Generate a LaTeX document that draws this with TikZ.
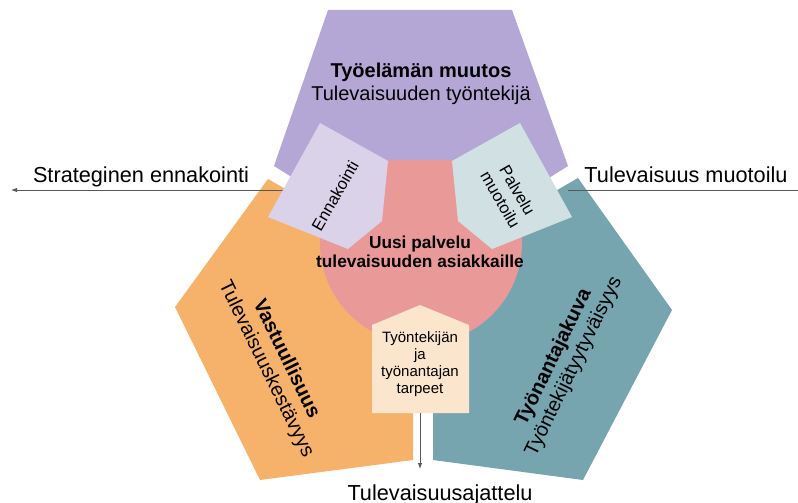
\documentclass[tikz,border=0pt]{standalone}
\usepackage{fontspec}
\setmainfont{Liberation Sans}
\usetikzlibrary{arrows.meta}
\definecolor{purp}{HTML}{B4A7D6}
\definecolor{orng}{HTML}{F6B26B}
\definecolor{tealc}{HTML}{76A5AF}
\definecolor{pinkc}{HTML}{EA9999}
\definecolor{lav}{HTML}{D9D2E9}
\definecolor{lcyan}{HTML}{D0E0E3}
\definecolor{beige}{HTML}{FCE5CD}
\definecolor{linec}{HTML}{595959}
\begin{document}
\begin{tikzpicture}[x=1pt,y=-1pt,
  lbl/.style={inner sep=0pt, align=center, text=black},
  conn/.style={draw=linec, line width=1pt},
  tipstyle/.style={-{Latex[length=6pt,width=4.5pt]}},
  bigfont/.style={font=\fontsize{20}{22.5}\selectfont},
  outfont/.style={font=\fontsize{21.7}{24}\selectfont},
  smallfont/.style={font=\fontsize{16.5}{19.5}\selectfont},
  boxfont/.style={font=\fontsize{15}{16.8}\selectfont},
  centfont/.style={font=\fontsize{17.3}{19.6}\selectfont\bfseries}
]
\useasboundingbox (0,0) rectangle (798,503);
\fill[white] (0,0) rectangle (798,503);
% big pentagons
\fill[purp] (328,10) -- (512,10) -- (568,166) -- (421,258) -- (274,166) -- cycle;
\fill[orng] (268,179) -- (175,307) -- (260,480) -- (413,460) -- (413,262) -- cycle;
\fill[tealc] (578,178) -- (672,310) -- (583,480) -- (433,460) -- (433,262) -- cycle;
% central pink shape
\begin{scope}
  \clip (290,160) rectangle (550,370);
  \fill[pinkc] (421,243) circle[radius=101];
\end{scope}
% connectors
\coordinate (ennL) at (283,190);
\coordinate (leftEnd) at (11,190);
\coordinate (palR) at (568,190);
\coordinate (rightEnd) at (798,190);
\draw[conn, tipstyle] (ennL) -- (leftEnd);
\draw[conn] (palR) -- (rightEnd);
% small boxes
\fill[lav] (268,217) -- (320,123) -- (388,161) -- (382,221) -- (348,249) -- cycle;
\fill[lcyan] (572,217) -- (520,123) -- (452,161) -- (458,221) -- (492,249) -- cycle;
\fill[beige] (372,413) -- (372,325) -- (420,305) -- (469,325) -- (469,413) -- cycle;
\coordinate (beigeB) at (420,413);
\coordinate (bottomEnd) at (420,469);
\draw[conn, tipstyle] (beigeB) -- (bottomEnd);
% texts
\node[lbl, bigfont] (purpT) at (421,84) {\textbf{Työelämän muutos}\\Tulevaisuuden työntekijä};
\node[lbl, bigfont, rotate=-64] (orngT) at (276,364) {\textbf{Vastuullisuus}\\Tulevaisuuskestävyys};
\node[lbl, bigfont, rotate=64] (tealT) at (564,362) {\textbf{Työnantajakuva}\\Työntekijätyytyväisyys};
\node[lbl, centfont] (pinkT) at (420,252) {Uusi palvelu\\tulevaisuuden asiakkaille};
\node[lbl, smallfont, rotate=60] (ennT) at (335,196) {Ennakointi};
\node[lbl, smallfont, rotate=-60] (palT) at (509,195) {Palvelu\\muotoilu};
\node[lbl, boxfont] (beigeT) at (420,364) {Työntekijän\\ja\\työnantajan\\tarpeet};
\node[lbl, outfont, anchor=base] (leftT) at (141,182) {Strateginen ennakointi};
\node[lbl, outfont, anchor=base] (rightT) at (686,182) {Tulevaisuus muotoilu};
\node[lbl, outfont, anchor=base] (bottomT) at (440,500) {Tulevaisuusajattelu};
\end{tikzpicture}
\end{document}
